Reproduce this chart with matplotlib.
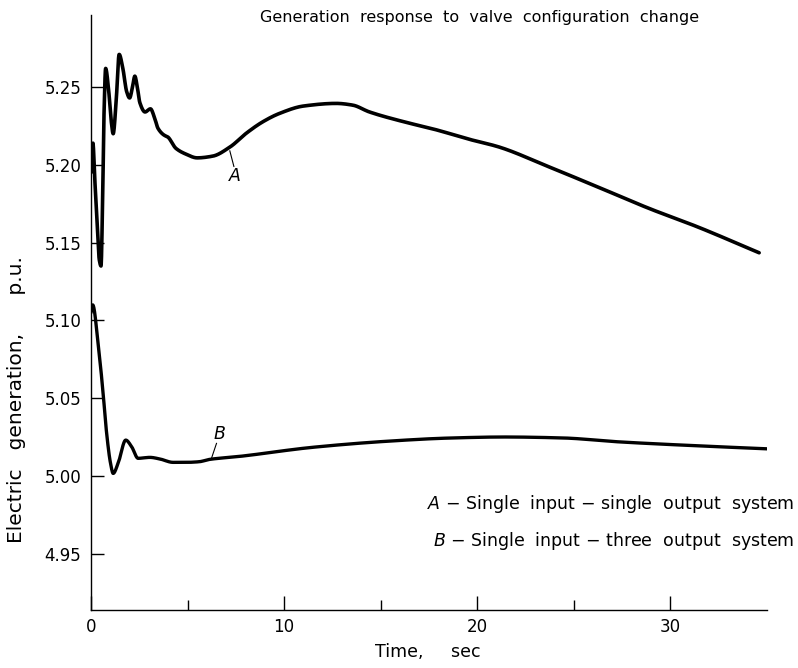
import matplotlib
matplotlib.use("Agg")
import matplotlib.pyplot as plt
import numpy as np

# Curve A: single input - single output system
t_a = [0.0, 0.1, 0.2, 0.33, 0.43, 0.52, 0.6, 0.68, 0.76, 0.9, 1.05, 1.15, 1.3, 1.46, 1.65, 1.85, 2.0, 2.15, 2.27, 2.4, 2.53,
       2.8, 3.08, 3.3, 3.47, 3.8, 3.97, 4.4, 4.9, 5.5, 6.3, 7.2, 8.05, 8.9, 9.75, 11.0, 12.7, 13.55, 14.4,
       16.2, 17.8, 19.6, 21.1, 23.7, 26.3, 28.9, 31.4, 34.6]
v_a = [5.195, 5.214, 5.190, 5.160, 5.139, 5.135, 5.175, 5.235, 5.262, 5.250, 5.228, 5.220, 5.240, 5.271, 5.262, 5.247, 5.243, 5.250, 5.257, 5.250, 5.240,
       5.234, 5.236, 5.230, 5.2235, 5.219, 5.218, 5.2106, 5.207, 5.2045, 5.2056, 5.2115, 5.2204, 5.2277, 5.233, 5.2378, 5.2395, 5.2384, 5.2341,
       5.2277, 5.2228, 5.2164, 5.2116, 5.1988, 5.1855, 5.172, 5.1602, 5.1435]

# Curve B: single input - three output system
t_b = [0.0, 0.09, 0.37, 0.63, 0.81, 1.01, 1.15, 1.41, 1.8, 2.1, 2.44, 3.05, 3.56, 4.25, 4.94, 5.6, 6.14, 7.6, 11.5,
       15.5, 18.5, 21.4, 24.4, 27.3, 31.3, 35.0]
v_b = [5.105, 5.110, 5.0853, 5.053, 5.0276, 5.0084, 5.0017, 5.0084, 5.0231, 5.019, 5.0114, 5.012, 5.011, 5.0088, 5.0088, 5.0092, 5.0107, 5.0125, 5.0185,
       5.0225, 5.0244, 5.0251, 5.0245, 5.022, 5.0195, 5.0175]

x_ticks = [0, 10, 20, 30]
x_minor = [5, 15, 25]
y_ticks = [4.95, 5.00, 5.05, 5.10, 5.15, 5.20, 5.25]
y_labels = ["4.95", "5.00", "5.05", "5.10", "5.15", "5.20", "5.25"]

def smooth(t, v, n=1500):
    t = np.asarray(t, float); v = np.asarray(v, float)
    h = np.diff(t); d = np.diff(v) / h
    m = np.zeros_like(v)
    for k in range(1, len(v) - 1):
        if d[k - 1] * d[k] > 0:
            w1 = 2 * h[k] + h[k - 1]; w2 = h[k] + 2 * h[k - 1]
            m[k] = (w1 + w2) / (w1 / d[k - 1] + w2 / d[k])
    m[0] = d[0]; m[-1] = d[-1]
    tt = np.linspace(t[0], t[-1], n)
    idx = np.clip(np.searchsorted(t, tt) - 1, 0, len(h) - 1)
    s = (tt - t[idx]) / h[idx]
    h00 = 2 * s**3 - 3 * s**2 + 1; h10 = s**3 - 2 * s**2 + s
    h01 = -2 * s**3 + 3 * s**2; h11 = s**3 - s**2
    vv = h00 * v[idx] + h10 * h[idx] * m[idx] + h01 * v[idx + 1] + h11 * h[idx] * m[idx + 1]
    return tt, vv

fig = plt.figure(figsize=(7.98, 6.68), dpi=100)
ax = fig.add_axes([0.114, 0.0868, 0.847, 0.8907])

ta, va = smooth(t_a, v_a, 4000)
tb, vb = smooth(t_b, v_b, 3000)
ax.plot(ta, va, color="black", lw=2.6, solid_capstyle="round")
ax.plot(tb, vb, color="black", lw=2.4, solid_capstyle="round")

ax.set_xlim(0, 35)
ax.set_ylim(4.9139, 5.2963)
ax.spines["top"].set_visible(False)
ax.spines["right"].set_visible(False)
ax.spines["left"].set_linewidth(1.0)
ax.spines["bottom"].set_linewidth(1.0)
ax.set_xticks(x_ticks)
ax.set_xticks(x_minor, minor=True)
ax.set_yticks(y_ticks)
ax.set_yticklabels(y_labels)
ax.tick_params(axis="both", which="major", direction="in", length=9, width=1.0, labelsize=12)
ax.tick_params(axis="y", which="major", pad=7)
ax.tick_params(axis="x", which="major", length=10, pad=6)
ax.tick_params(axis="x", which="minor", direction="in", length=7, width=1.0)

fig.text(428 / 798, 1 - 652 / 668, "Time,     sec", fontsize=12.5, ha="center", va="center")
fig.text(17 / 798, 1 - 400 / 668, "Electric   generation,      p.u.", fontsize=14.5,
         rotation=90, ha="center", va="center")

ax.text(31.5, 5.2945, "Generation  response  to  valve  configuration  change", fontsize=11.5,
        ha="right", va="center")

# curve labels with leader lines
ax.plot([7.19, 7.4], [5.209, 5.199], color="black", lw=0.8)
ax.text(7.45, 5.193, "A", fontsize=12.5, style="italic", ha="center", va="center")
ax.plot([6.23, 6.5], [5.011, 5.021], color="black", lw=0.8)
ax.text(6.65, 5.027, "B", fontsize=12.5, style="italic", ha="center", va="center")

fig.text(0.996, 1 - 504 / 668, r"$\it{A}$ $-$ Single  input $-$ single  output  system", fontsize=12.5, ha="right", va="center")
fig.text(0.996, 1 - 541 / 668, r"$\it{B}$ $-$ Single  input $-$ three  output  system", fontsize=12.5, ha="right", va="center")

fig.savefig("out.png", dpi=100)
